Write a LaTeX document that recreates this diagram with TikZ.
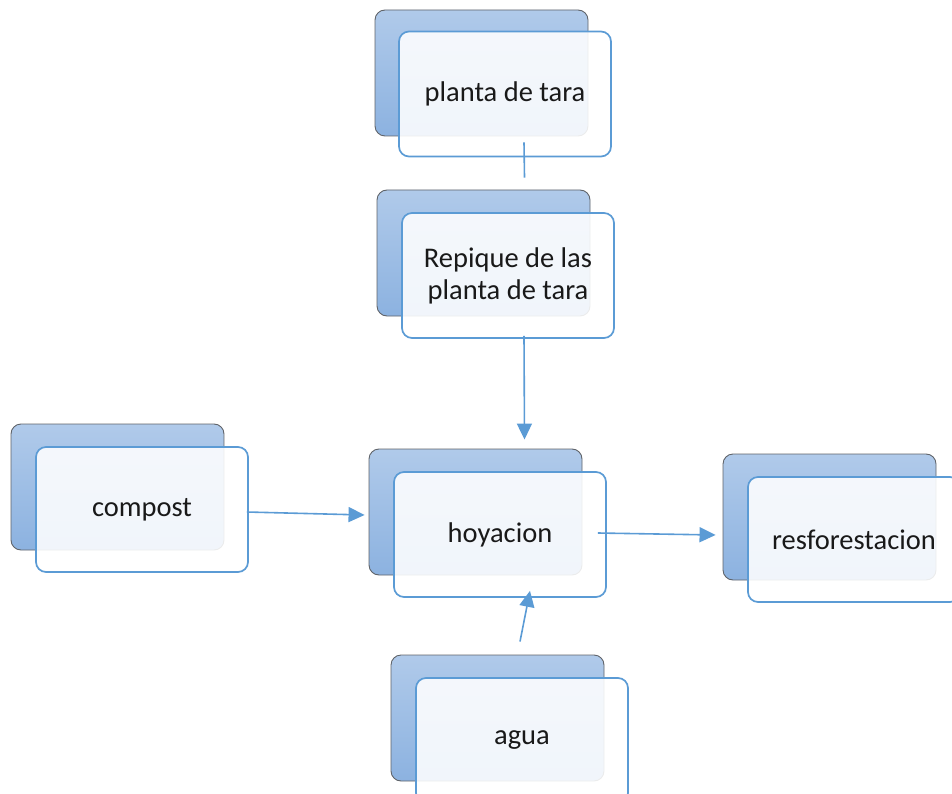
\documentclass[tikz,border=0pt]{standalone}
\usepackage{fontspec}
\setmainfont{Carlito}
\usepackage{tikz}
\usetikzlibrary{arrows.meta,calc}
\definecolor{edgegray}{RGB}{95,99,105}
\definecolor{frameblue}{RGB}{91,155,213}
\definecolor{shadetop}{RGB}{176,202,234}
\definecolor{shadebot}{RGB}{140,178,224}
\definecolor{inkgray}{RGB}{25,25,25}
\newcommand{\boxfont}{\fontsize{28.5}{32}\selectfont}
\tikzset{
  backbox/.style={draw=edgegray, line width=0.9pt, rounded corners=10pt,
      top color=shadetop, bottom color=shadebot,
      minimum width=213pt, minimum height=126pt, inner sep=0pt},
  frontbox/.style={draw=frameblue, line width=1.7pt, rounded corners=10pt,
      fill=white, fill opacity=0.88, text opacity=1, text=inkgray,
      minimum width=212pt, minimum height=125pt, inner sep=0pt,
      align=center, font=\boxfont},
  link/.style={frameblue, line width=1.6pt},
  flow/.style={link, -{Triangle[length=16pt,width=15pt]}},
}

\begin{document}
\begin{tikzpicture}[x=1pt,y=-1pt]
  \useasboundingbox (0,0) rectangle (952,794);
  % stacked boxes
  \node[backbox] (tarab) at (481.5,73) {};
  \node[frontbox] (tara) at (505,94) {planta de tara};
  \node[backbox] (repiqueb) at (483.5,253) {};
  \node[frontbox] (repique) at (508,275.5) {Repique de las\\planta de tara};
  \node[backbox] (compostb) at (117.5,487) {};
  \node[frontbox] (compost) at (142,509.5) {compost};
  \node[backbox] (hoyacionb) at (475.5,512) {};
  \node[frontbox] (hoyacion) at (500,534.5) {hoyacion};
  \node[backbox] (resforb) at (829.5,517) {};
  \node[frontbox] (resfor) at (854,539.5) {resforestacion};
  \node[backbox] (aguab) at (497.5,718) {};
  \node[frontbox] (agua) at (522,740.5) {agua};
  % connectors
  \draw[link] ([xshift=19pt,yshift=15pt]tara.south) -- ([xshift=41pt,yshift=12pt]repiqueb.north);
  \draw[flow] ([xshift=16pt,yshift=3pt]repique.south) -- ([xshift=49pt,yshift=9pt]hoyacionb.north);
  \draw[flow] ([xshift=-2pt,yshift=-2.5pt]compost.east) -- ([xshift=-4pt,yshift=-3pt]hoyacionb.west);
  \draw[flow] ([xshift=-9pt,yshift=1.5pt]hoyacion.east) -- ([xshift=-7pt,yshift=-18pt]resforb.west);
  \draw[flow] ([xshift=22.5pt,yshift=13pt]aguab.north) -- ([xshift=30pt,yshift=7pt]hoyacion.south);
\end{tikzpicture}
\end{document}
